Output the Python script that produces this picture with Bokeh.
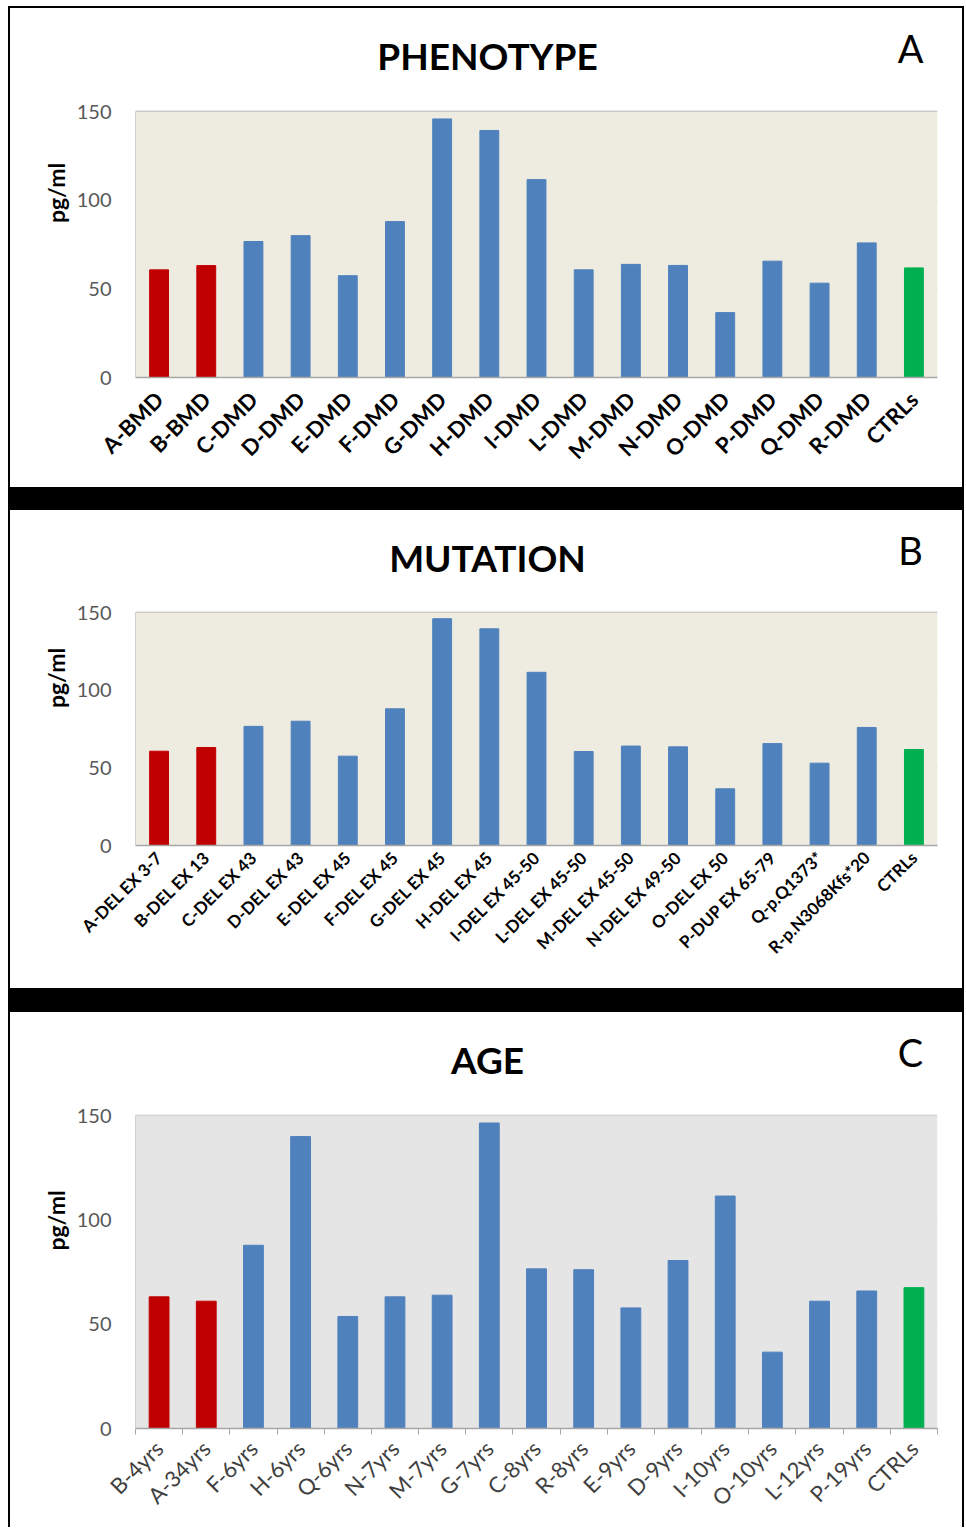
from bokeh.plotting import figure
from bokeh.models import (ColumnDataSource, Range1d, FixedTicker, CustomJSTickFormatter,
                          Label, BoxAnnotation)
from bokeh.layouts import column
from bokeh.embed import file_html
from bokeh.resources import INLINE
import math

# ---------------- data ----------------
phen_labels = ["A-BMD", "B-BMD", "C-DMD", "D-DMD", "E-DMD", "F-DMD", "G-DMD", "H-DMD",
               "I-DMD", "L-DMD", "M-DMD", "N-DMD", "O-DMD", "P-DMD", "Q-DMD", "R-DMD", "CTRLs"]
phen_values = [60.7, 63.1, 76.7, 80.0, 57.4, 87.9, 145.8, 139.3, 111.6, 60.7, 63.8, 63.2,
               36.6, 65.6, 53.2, 75.9, 61.8]

mut_labels = ["A-DEL EX 3-7", "B-DEL EX 13", "C-DEL EX 43", "D-DEL EX 43", "E-DEL EX 45",
              "F-DEL EX 45", "G-DEL EX 45", "H-DEL EX 45", "I-DEL EX 45-50", "L-DEL EX 45-50",
              "M-DEL EX 45-50", "N-DEL EX 49-50", "O-DEL EX 50", "P-DUP EX 65-79",
              "Q-p.Q1373*", "R-p.N3068Kfs*20", "CTRLs"]
mut_values = [60.7, 63.1, 76.7, 80.0, 57.5, 88.0, 146.0, 139.5, 111.5, 60.5, 64.0, 63.5,
              36.5, 65.6, 53.0, 76.0, 61.8]

age_labels = ["B-4yrs", "A-34yrs", "F-6yrs", "H-6yrs", "Q-6yrs", "N-7yrs", "M-7yrs", "G-7yrs",
              "C-8yrs", "R-8yrs", "E-9yrs", "D-9yrs", "I-10yrs", "O-10yrs", "L-12yrs",
              "P-19yrs", "CTRLs"]
age_values = [63.1, 61.0, 87.8, 139.9, 53.7, 63.1, 63.9, 146.4, 76.5, 76.1, 57.8, 80.5,
              111.4, 36.6, 61.0, 65.9, 67.5]

y_ticks = [0, 50, 100, 150]
y_max = 150

# ---------------- styling ----------------
RED, BLUE, GREEN = "#C00000", "#4F81BD", "#00B050"
W = 952
LEFT, RIGHT = 125, 25


def color_for(lbl):
    if lbl.startswith("CTRL"):
        return GREEN
    if lbl[0] in ("A", "B"):
        return RED
    return BLUE


def panel(labels, values, title, letter, height, top, bottom, bg, grid_color, bar_w,
          lab_font_size, lab_style, lab_color, boundary_ticks, lab_standoff, margin):
    n = len(labels)
    src = ColumnDataSource(dict(x=[i + 0.5 for i in range(n)], v=values,
                                c=[color_for(l) for l in labels]))
    frame_h = height - bottom
    plot_h = frame_h - top
    y_end = y_max * frame_h / plot_h
    p = figure(width=W, height=height, output_backend="svg", toolbar_location=None,
               title=None,
               x_range=Range1d(0, n), y_range=Range1d(0, y_end),
               min_border_left=LEFT, min_border_right=RIGHT,
               min_border_top=0, min_border_bottom=bottom,
               background_fill_color="white", border_fill_color="white",
               margin=margin, styles={"background-color": "white"})
    p.outline_line_color = None
    p.outline_line_alpha = 0
    p.add_layout(BoxAnnotation(bottom=0, top=y_max, fill_color=bg, fill_alpha=1.0,
                               line_color=None, line_alpha=0, level="underlay"))
    p.vbar(x="x", top="v", width=bar_w, color="c", source=src)

    # y axis
    ya = p.yaxis[0]
    ya.ticker = FixedTicker(ticks=y_ticks)
    ya.bounds = (0, y_max)
    ya.major_tick_out = 0
    ya.major_tick_in = 0
    ya.minor_tick_out = 0
    ya.minor_tick_in = 0
    ya.axis_line_color = "#D0D0D0"
    ya.major_label_standoff = 24
    ya.major_label_text_font = "Lato"
    ya.major_label_text_font_size = "20px"
    ya.major_label_text_color = "#595959"
    ya.axis_label = "pg/ml"
    ya.axis_label_text_font = "Lato"
    ya.axis_label_text_font_style = "bold"
    ya.axis_label_text_font_size = "23px"
    ya.axis_label_text_color = "black"
    ya.axis_label_standoff = 4

    # x axis
    xa = p.xaxis[0]
    xa.ticker = FixedTicker(ticks=[i + 0.5 for i in range(n)],
                            minor_ticks=list(range(n + 1)) if boundary_ticks else [])
    xa.formatter = CustomJSTickFormatter(args=dict(labels=labels),
                                         code="return labels[Math.round(tick - 0.5)];")
    xa.major_tick_out = 0
    xa.major_tick_in = 0
    xa.minor_tick_in = 0
    xa.minor_tick_out = 6 if boundary_ticks else 0
    xa.minor_tick_line_color = "#A6A6A6"
    xa.axis_line_color = "#A6A6A6"
    xa.axis_line_width = 1.5
    xa.major_label_orientation = math.pi / 4
    xa.major_label_standoff = lab_standoff
    xa.major_label_text_font = "Lato"
    xa.major_label_text_font_size = lab_font_size
    xa.major_label_text_font_style = lab_style
    xa.major_label_text_color = lab_color

    p.xgrid.grid_line_color = None
    p.xgrid.visible = False
    p.ygrid.ticker = FixedTicker(ticks=y_ticks)
    p.ygrid.grid_line_color = grid_color
    p.ygrid.grid_line_width = 1.5

    fig_cx = W / 2 - LEFT + 1

    p.add_layout(Label(x=fig_cx, y=frame_h - 47, x_units="screen", y_units="screen",
                       text=title, text_font="Lato", text_font_style="bold",
                       text_font_size="37px", text_align="center", text_baseline="middle",
                       text_color="black"))
    p.add_layout(Label(x=775, y=frame_h - 39, x_units="screen", y_units="screen",
                       text=letter, text_font="Lato", text_font_size="38px",
                       text_align="center", text_baseline="middle", text_color="black"))
    return p


pA = panel(phen_labels, phen_values, "PHENOTYPE", "A", 479, 103, 110, "#EEECE1", "#A6A6A6",
           0.40, "22px", "bold", "black", False, 18, (2, 2, 0, 2))
pB = panel(mut_labels, mut_values, "MUTATION", "B", 478, 102, 143, "#EEECE1", "#A6A6A6",
           0.40, "17px", "bold", "black", False, 9, (23, 2, 0, 2))
pC = panel(age_labels, age_values, "AGE", "C", 515, 103, 99, "#E5E5E5", "#BFBFBF",
           0.42, "22px", "normal", "#404040", True, 10, (24, 2, 0, 2))

layout = column(pA, pB, pC, spacing=0, margin=(6, 0, 0, 8),
                styles={"background-color": "black"})

open("out.html", "w").write(file_html(layout, INLINE))
